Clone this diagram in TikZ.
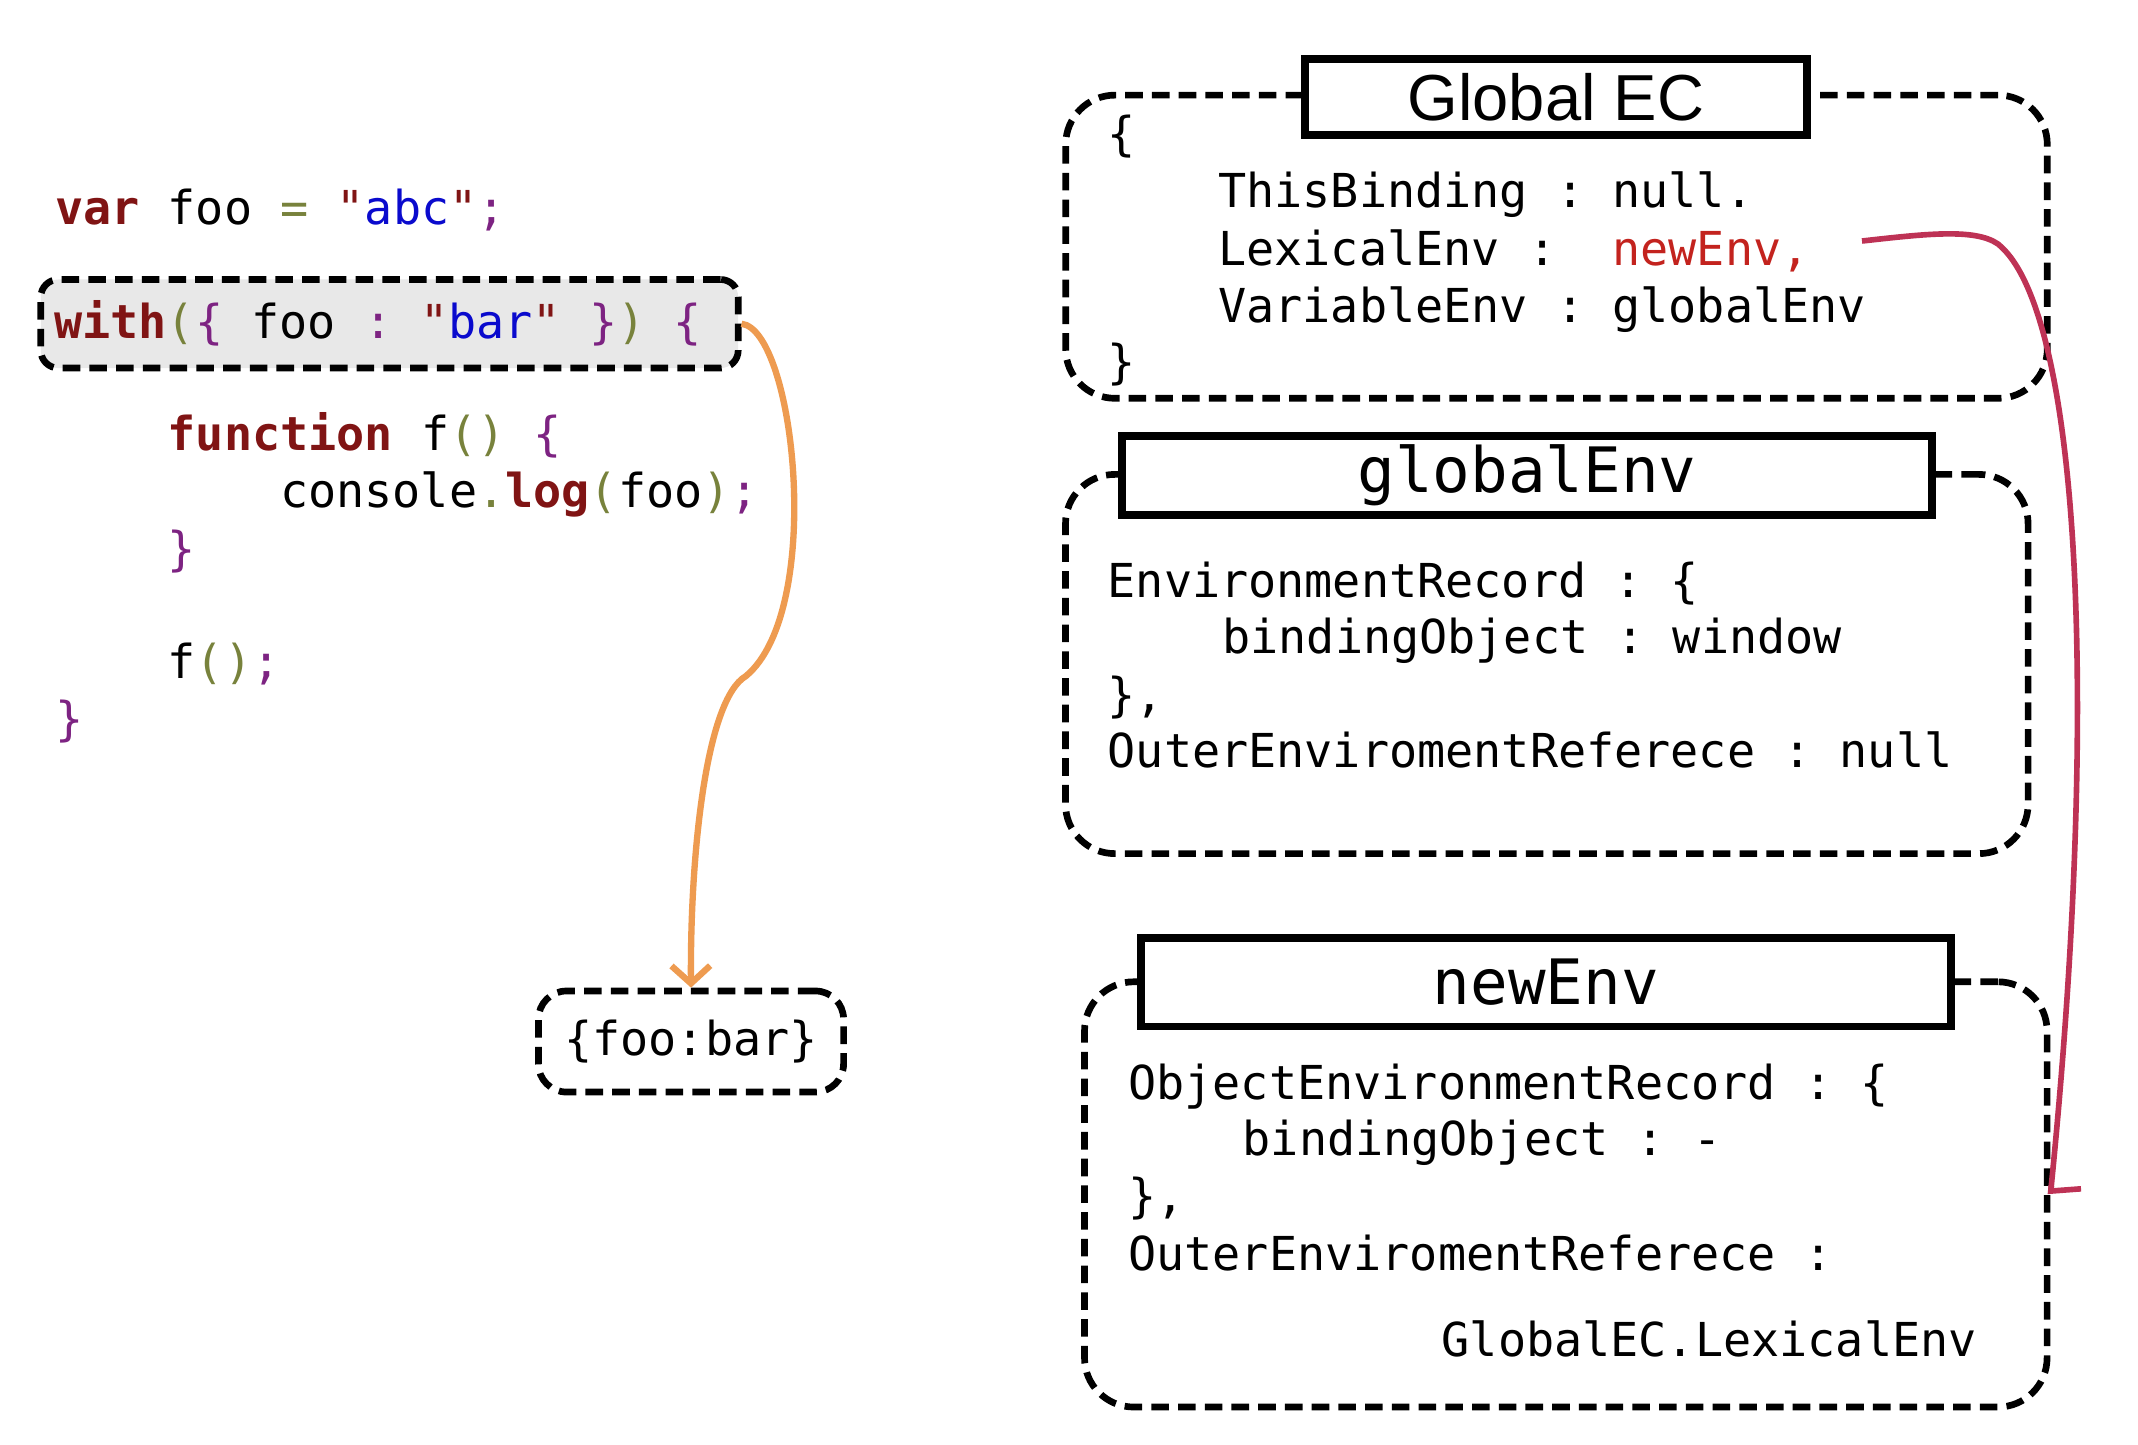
\documentclass[tikz,border=0pt]{standalone}
\usepackage{fontspec}
\setmainfont{Liberation Sans}
\setsansfont{Liberation Sans}
\setmonofont{DejaVu Sans Mono}
\usepackage{xcolor}
\usepackage{tikz}
\usetikzlibrary{arrows.meta, positioning, calc}
\definecolor{kwred}{RGB}{128,20,20}
\definecolor{strblue}{RGB}{10,10,205}
\definecolor{brcpurple}{RGB}{125,35,130}
\definecolor{opolive}{RGB}{120,130,60}
\definecolor{envred}{RGB}{195,35,30}
\definecolor{hookred}{RGB}{190,50,85}
\definecolor{hookorange}{RGB}{238,155,80}
\definecolor{withgray}{RGB}{232,232,232}
\newcommand{\codefont}{\fontsize{13.3}{16}\ttfamily}
\newcommand{\titlefont}{\fontsize{17.8}{20}\ttfamily}
\newcommand{\kwd}[1]{\textcolor{kwred}{\bfseries #1}}
\newcommand{\strv}[1]{\textcolor{strblue}{#1}}
\newcommand{\brc}[1]{\textcolor{brcpurple}{#1}}
\newcommand{\opr}[1]{\textcolor{opolive}{#1}}
\newcommand{\qt}{\textcolor{kwred}{"}}
\tikzset{
  codeline/.style={font=\codefont, inner sep=0pt, anchor=mid west, yshift=-2.2pt},
  dashbox/.style={draw=black, line width=1.9pt, dash pattern=on 5pt off 2.6pt},
  envbox/.style={dashbox, rounded corners=14pt},
  titlebox/.style={rectangle, draw=black, fill=white, line width=2.2pt,
    inner sep=0pt, font=\titlefont},
  hookarrow/.style={line width=1.8pt, color=hookorange,
    -{Straight Barb[length=5pt, width=11pt]}},
  envarrow/.style={line width=1.6pt, color=hookred,
    -{Straight Barb[harpoon, length=1.5pt, width=17pt]}}
}
\begin{document}
\begin{tikzpicture}[x=0.01cm, y=-0.01cm]
  \fill[white] (0,0) rectangle (2138,1444);
  \useasboundingbox (0,0) rectangle (2138,1444);

  % Source code
  \node[codeline] (l_var) at (54.5,207) {\kwd{var} foo \opr{=} \qt\strv{abc}\qt\brc{;}};
  \node[dashbox, rounded corners=5pt, fill=withgray, font=\codefont,
    minimum width=6.97cm, minimum height=0.885cm,
    inner xsep=0.135cm, inner ysep=0pt] (withbox) at (389.5,323.75)
    {\makebox[6.70cm][l]{\kwd{with}\opr{(}\brc{\{} foo \brc{:} \qt\strv{bar}\qt{} \brc{\}}\opr{)} \brc{\{}}};
  \node[codeline] (l_func) at (167,433.6) {\kwd{function} f\opr{()} \brc{\{}};
  \node[codeline] (l_log) at (279.5,490.9) {console\opr{.}\kwd{log}\opr{(}foo\opr{)}\brc{;}};
  \node[codeline] (l_fclose) at (167,548.1) {\brc{\}}};
  \node[codeline] (l_call) at (167,661.3) {f\opr{()}\brc{;}};
  \node[codeline] (l_wclose) at (54.5,718.6) {\brc{\}}};

  % Object created by with
  \node[dashbox, rounded corners=8pt, font=\codefont, minimum width=3.05cm,
    minimum height=1.01cm] (foobox) at (691,1041.5) {\{foo:bar\}};

  % Global EC
  \node[envbox, minimum width=9.81cm, minimum height=3.03cm] (gec) at (1556.5,246.7) {};
  \node[titlebox, font=\fontsize{18.5}{20}\sffamily, minimum width=5.02cm,
    minimum height=0.76cm] (gec_title) at (1556,96.8) {Global EC};
  \node[codeline] (gec_open) at (1107,133.6) {\{};
  \node[codeline] (gec_this) at (1217.6,190.9) {ThisBinding : null.};
  \node[codeline] (gec_lex) at (1217.6,248.2) {LexicalEnv :\ \ \textcolor{envred}{newEnv,}};
  \node[codeline] (gec_var) at (1217.6,305.4) {VariableEnv : globalEnv};
  \node[codeline] (gec_close) at (1107,361.3) {\}};

  % globalEnv
  \node[envbox, minimum width=9.62cm, minimum height=3.79cm] (genv) at (1546.8,664) {};
  \node[titlebox, minimum width=8.10cm, minimum height=0.79cm] (genv_title) at (1527,475.7) {globalEnv};
  \node[codeline] (genv_rec) at (1107,580.9) {EnvironmentRecord : \{};
  \node[codeline] (genv_bind) at (1221.7,636.8) {bindingObject : window};
  \node[codeline] (genv_close) at (1107,694) {\},};
  \node[codeline] (genv_outer) at (1107,750) {OuterEnviromentReferece : null};

  % newEnv
  \node[envbox, minimum width=9.62cm, minimum height=4.25cm] (nenv) at (1565.8,1194.4) {};
  \node[titlebox, minimum width=8.10cm, minimum height=0.887cm] (nenv_title) at (1546,982) {newEnv};
  \node[codeline] (nenv_rec) at (1127.6,1082.6) {ObjectEnvironmentRecord : \{};
  \node[codeline] (nenv_bind) at (1242,1138.5) {bindingObject : -};
  \node[codeline] (nenv_close) at (1127.6,1195.8) {\},};
  \node[codeline] (nenv_outer) at (1127.6,1253) {OuterEnviromentReferece :};
  \node[codeline] (nenv_lex) at (1441,1339) {GlobalEC.LexicalEnv};

  % Connectors
  \coordinate (lexstart) at (1862,241);
  \draw[hookarrow] (withbox.east) .. controls (795,330) and (825,610) .. (746,676)
    .. controls (705,700) and (690,860) .. (foobox.north);
  \draw[envarrow] (lexstart) .. controls (1925,234) and (1975,228) .. (1998,244)
    .. controls (2080,310) and (2100,700) .. (nenv.east);
\end{tikzpicture}
\end{document}
